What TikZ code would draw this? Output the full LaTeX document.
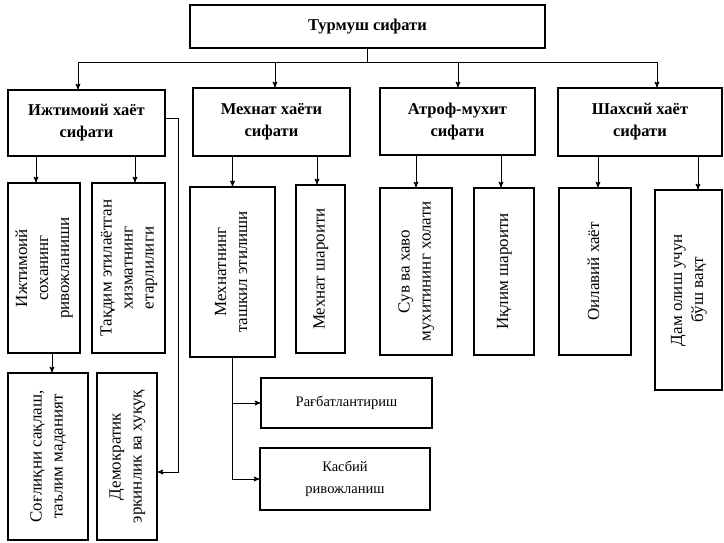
\documentclass[tikz,border=0pt]{standalone}
\usepackage{fontspec}
\usepackage{graphicx}
\setmainfont{Liberation Serif}
\usetikzlibrary{arrows}

\newcommand{\vtext}[1]{\rotatebox{90}{\begin{tabular}{@{}c@{}}#1\end{tabular}}}

\begin{document}
\begin{tikzpicture}[x=1pt, y=-1pt, thick, >=stealth', arr/.style={->, line width=1pt}, box/.style={draw, line width=1.4pt, inner sep=2pt, align=center}, head node/.style={box, font=\fontsize{16.5}{22}\selectfont\bfseries}, side node/.style={box, font=\fontsize{17}{21}\selectfont}, flat node/.style={box, font=\fontsize{14.5}{22}\selectfont}] %y runs down, one unit is one pixel of the scan
\useasboundingbox (0,0) rectangle (724,542);
\node[head node, minimum width=355pt, minimum height=43pt](top) at (367.5,26.5){Турмуш сифати};
\node[head node, minimum width=157pt, minimum height=66pt](ijt) at (86.5,123){Ижтимоий хаёт\\сифати};
\node[head node, minimum width=157pt, minimum height=68pt](mehnat) at (271.5,122){Мехнат хаёти\\сифати};
\node[head node, minimum width=155pt, minimum height=67pt](atrof) at (457.5,121.5){Атроф-мухит\\сифати};
\node[head node, minimum width=164pt, minimum height=68pt](shaxs) at (640,122){Шахсий хаёт\\сифати};
\coordinate (b1) at (78,62);
\coordinate (b2) at (275,62);
\coordinate (b3) at (458,62);
\coordinate (b4) at (657,62);
\draw (top.south) -- (top.south |- b1);
\draw (b1) -- (b4);
\draw[arr] (b1) -- (b1 |- ijt.north);
\draw[arr] (b2) -- (b2 |- mehnat.north);
\draw[arr] (b3) -- (b3 |- atrof.north);
\draw[arr] (b4) -- (b4 |- shaxs.north);
% second row
\node[side node, minimum width=72pt, minimum height=170pt](soha) at (44,268){\vtext{Ижтимоий\\соханинг\\ривожланиши}};
\node[side node, minimum width=73pt, minimum height=170pt](xizmat) at (128.5,268){\vtext{Тақдим этилаётган\\хизматнинг\\етарлилиги}};
\node[side node, minimum width=85pt, minimum height=170pt](tashkil) at (232.5,272){\vtext{Мехнатнинг\\ташкил этилиши}};
\node[side node, minimum width=49pt, minimum height=168pt](sharoit) at (320.5,269){\vtext{Мехнат шароити}};
\node[side node, minimum width=72pt, minimum height=167pt](suv) at (416,271.5){\vtext{Сув ва хаво\\мухитининг холати}};
\node[side node, minimum width=60pt, minimum height=167pt](iqlim) at (504,271.5){\vtext{Иқлим шароити}};
\node[side node, minimum width=72pt, minimum height=167pt](oila) at (595,271.5){\vtext{Оилавий хаёт}};
\node[side node, minimum width=67pt, minimum height=200pt](dam) at (688.5,290){\vtext{Дам олиш учун\\бўш вақт}};
\draw[arr] ([xshift=-8pt]soha.north |- ijt.south) -- ([xshift=-8pt]soha.north);
\draw[arr] ([xshift=6.5pt]xizmat.north |- ijt.south) -- ([xshift=6.5pt]xizmat.north);
\draw[arr] (tashkil.north |- mehnat.south) -- (tashkil.north);
\draw[arr] ([xshift=-3.5pt]sharoit.north |- mehnat.south) -- ([xshift=-3.5pt]sharoit.north);
\draw[arr] (suv.north |- atrof.south) -- (suv.north);
\draw[arr] ([xshift=-3pt]iqlim.north |- atrof.south) -- ([xshift=-3pt]iqlim.north);
\draw[arr] ([xshift=3pt]oila.north |- shaxs.south) -- ([xshift=3pt]oila.north);
\draw[arr] ([xshift=9.5pt]dam.north |- shaxs.south) -- ([xshift=9.5pt]dam.north);
% third row
\node[side node, minimum width=80pt, minimum height=167pt](sogliq) at (48,456.5){\vtext{Соғлиқни сақлаш,\\таълим маданият}};
\node[side node, minimum width=60pt, minimum height=167pt](huquq) at (127,456.5){\vtext{Демократик\\эркинлик ва хуқуқ}};
\node[flat node, minimum width=171pt, minimum height=50pt](ragbat) at (346.5,403){Рағбатлантириш};
\node[flat node, minimum width=170pt, minimum height=62pt](kasb) at (345,479){Касбий\\ривожланиш};
\draw[arr] ([xshift=4pt]sogliq.north |- soha.south) -- ([xshift=4pt]sogliq.north);
\draw[arr] ([yshift=5pt]ijt.east) -- ++(13,0) |- ([yshift=-15.5pt]huquq.east);
\draw[arr] (tashkil.south) |- (kasb.west);
\draw[arr] (tashkil.south |- ragbat.west) -- (ragbat.west);
\end{tikzpicture}
\end{document}
